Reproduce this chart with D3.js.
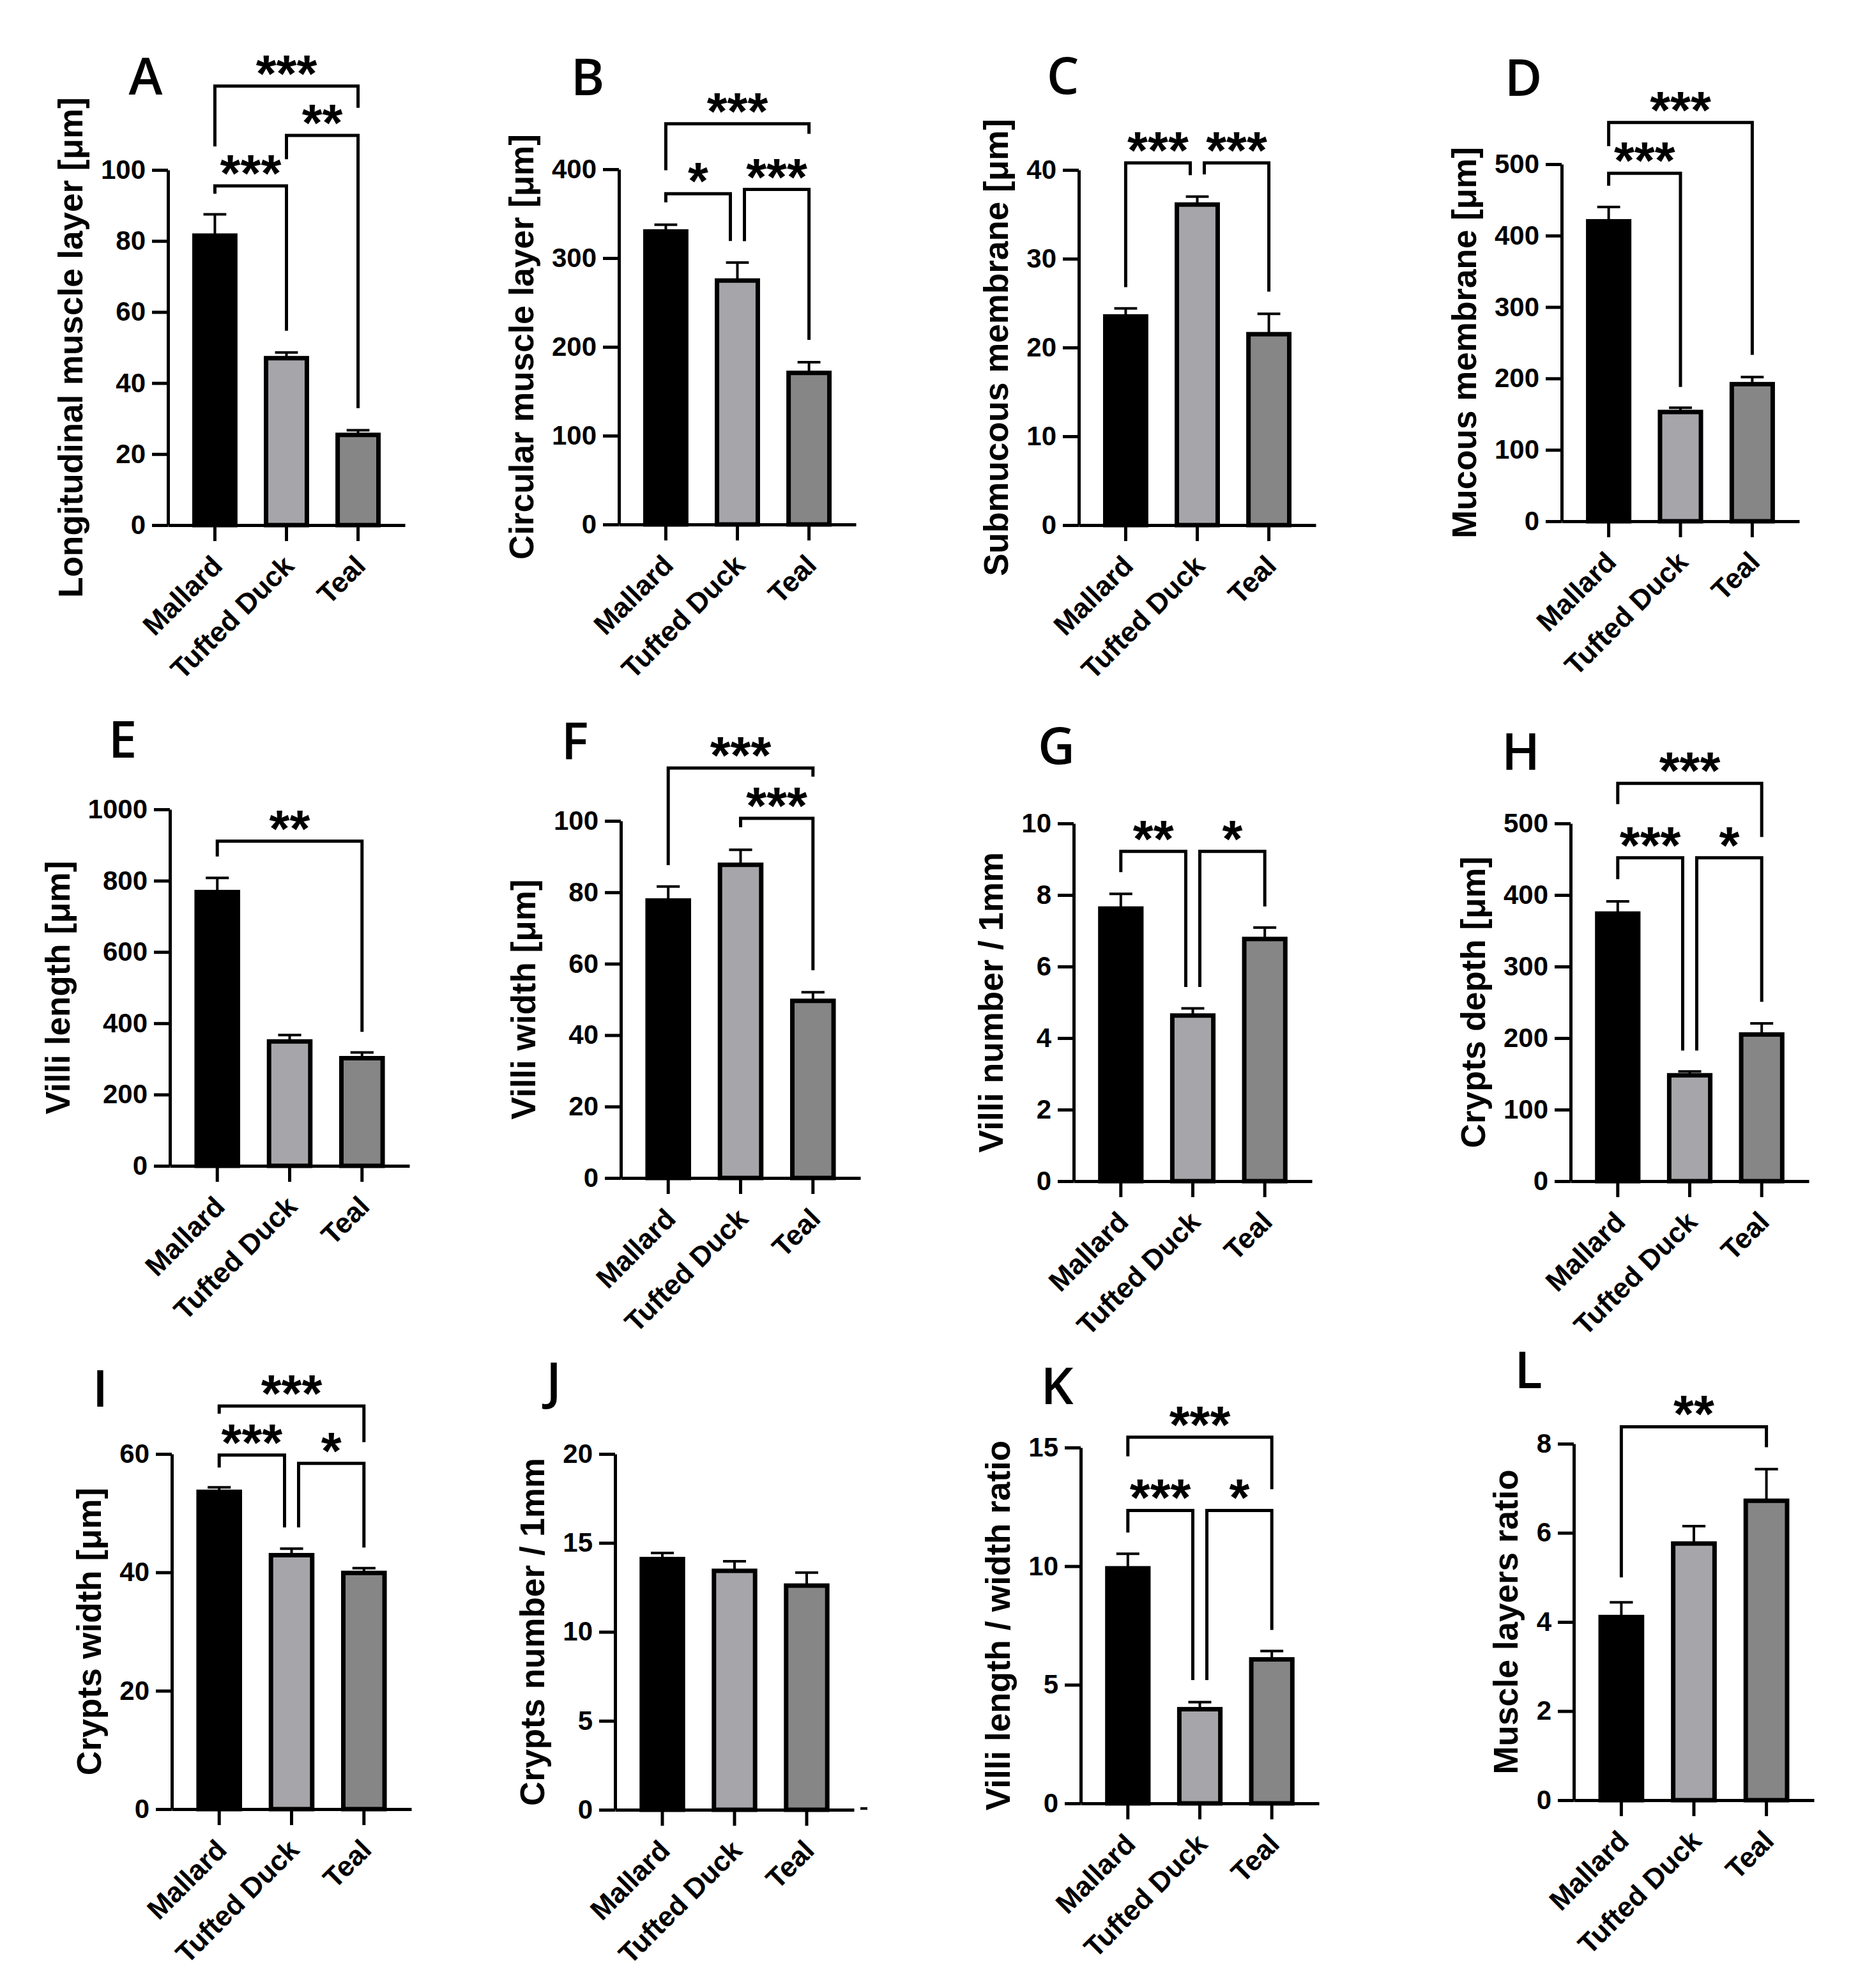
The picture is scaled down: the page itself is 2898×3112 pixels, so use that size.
<!DOCTYPE html>
<html>
<head>
<meta charset="utf-8">
<script src="https://cdn.jsdelivr.net/npm/d3@7"></script>
<style>
  body { margin: 0; background: #fff; }
  svg { display: block; }
</style>
</head>
<body>
<div id="chart"></div>
<script>
// groups shared by every panel
const GROUPS = ["Mallard", "Tufted Duck", "Teal"];
const BAR_COLORS = ["#000000", "#a6a6aa", "#868686"];

const PANEL_IDS = ["A", "B", "C", "D", "E", "F", "G", "H", "I", "J", "K", "L"];
const Y_TITLES = [
  "Longitudinal muscle layer [μm]",
  "Circular muscle layer [μm]",
  "Submucous membrane [μm]",
  "Mucous membrane [μm]",
  "Villi length [μm]",
  "Villi width [μm]",
  "Villi number / 1mm",
  "Crypts depth [μm]",
  "Crypts width [μm]",
  "Crypts number / 1mm",
  "Villi length / width ratio",
  "Muscle layers ratio",
];
const Y_MAX = [100, 400, 40, 500, 1000, 100, 10, 500, 60, 20, 15, 8];
const Y_STEP = [20, 100, 10, 100, 200, 20, 2, 100, 20, 5, 5, 2];

// mean per group (Mallard, Tufted Duck, Teal)
const MEANS = [
  [81.5, 47.0, 25.4],
  [330, 274.7, 170.7],
  [23.5, 36.1, 21.5],
  [420, 153, 192],
  [768, 349, 302],
  [77.7, 87.7, 49.6],
  [7.62, 4.63, 6.77],
  [374, 148, 205],
  [53.6, 42.9, 39.9],
  [14.09, 13.43, 12.6],
  [9.91, 3.97, 6.07],
  [4.11, 5.76, 6.72],
];
// upper error bar (SEM)
const SEMS = [
  [6.0, 1.6, 1.3],
  [7.6, 20.3, 12.1],
  [0.9, 0.9, 2.3],
  [20, 6, 10],
  [40, 18, 16],
  [3.9, 4.2, 2.4],
  [0.41, 0.2, 0.32],
  [17, 5.4, 15.5],
  [0.75, 1.1, 0.8],
  [0.34, 0.54, 0.73],
  [0.61, 0.3, 0.35],
  [0.33, 0.39, 0.71],
];
// significance: [from, to, level, left leg end, right leg end, stars] (data units)
const BRACKETS = [
  [[0, 1, 95.5, 93.3, 54.7, "***"], [1, 2, 109.7, 103.0, 32.9, "**"], [0, 2, 123.6, 106.6, 117.5, "***"]],
  [[0, 1, 372.4, 362.8, 319.2, "*"], [1, 2, 377.3, 319, 208, "***"], [0, 2, 451.3, 399, 440, "***"]],
  [[0, 1, 40.8, 26.8, 39.4, "***"], [1, 2, 40.8, 39.5, 26.3, "***"]],
  [[0, 1, 487.3, 469.9, 188, "***"], [0, 2, 558.4, 525.3, 233, "***"]],
  [[0, 2, 911, 868, 376, "**"]],
  [[1, 2, 100.7, 98.2, 58.2, "***"], [0, 2, 114.8, 87.6, 112.4, "***"]],
  [[0, 1, 9.22, 8.64, 5.43, "**"], [1, 2, 9.22, 5.43, 7.68, "*"]],
  [[0, 1, 452, 422, 182.7, "***"], [1, 2, 452, 182.7, 250.6, "*"], [0, 2, 556, 527, 481, "***"]],
  [[0, 1, 59.8, 57.7, 47.6, "***"], [1, 2, 58.4, 47.6, 44.2, "*"], [0, 2, 68.1, 66.8, 62.0, "***"]],
  [],
  [[0, 1, 12.35, 11.42, 5.2, "***"], [1, 2, 12.35, 5.2, 7.31, "*"], [0, 2, 15.44, 14.63, 13.24, "***"]],
  [[0, 2, 8.38, 5.0, 7.92, "**"]],
];

// plot frames in page pixels: y axis x, x axis end, top tick y, zero y, letter anchor
const LAYOUT = [
  { x0: 263, x1: 634, yTop: 266, y0: 822, lx: 228, ly: 148 },
  { x0: 969, x1: 1340, yTop: 265, y0: 821, lx: 920, ly: 149 },
  { x0: 1689, x1: 2060, yTop: 266, y0: 822, lx: 1664, ly: 147 },
  { x0: 2445, x1: 2817, yTop: 257, y0: 816, lx: 2385, ly: 150 },
  { x0: 266, x1: 641, yTop: 1267, y0: 1825, lx: 192, ly: 1186 },
  { x0: 972, x1: 1347, yTop: 1285, y0: 1844, lx: 900, ly: 1189 },
  { x0: 1681, x1: 2054, yTop: 1289, y0: 1849, lx: 1654, ly: 1196 },
  { x0: 2459, x1: 2832, yTop: 1289, y0: 1849, lx: 2381, ly: 1205 },
  { x0: 269, x1: 644, yTop: 2276, y0: 2832, lx: 157, ly: 2202 },
  { x0: 963, x1: 1337, yTop: 2276, y0: 2833, lx: 867, ly: 2190 },
  { x0: 1692, x1: 2065, yTop: 2266, y0: 2823, lx: 1655, ly: 2198 },
  { x0: 2464, x1: 2840, yTop: 2260, y0: 2818, lx: 2393, ly: 2173 },
];

const FONT = "'Liberation Sans', Arial, sans-serif";
const TICK_LEN = 25;
const SHIFT = 11;

const svg = d3
  .select("#chart")
  .append("svg")
  .attr("width", 2898)
  .attr("height", 3112);

svg.append("rect").attr("width", 2898).attr("height", 3112).attr("fill", "#fff");

PANEL_IDS.forEach((id, i) => {
  const L = LAYOUT[i];
  const g = svg.append("g").attr("class", "panel-" + id);

  const x = d3
    .scaleBand()
    .domain(GROUPS)
    .range([L.x0, L.x1])
    .paddingInner(0.43)
    .paddingOuter(0.37);
  const y = d3.scaleLinear().domain([0, Y_MAX[i]]).range([L.y0, L.yTop]);
  const bw = x.bandwidth();

  const rows = GROUPS.map((k, j) => ({ k, j, v: MEANS[i][j], e: SEMS[i][j] }));

  //bars
  g.selectAll("rect.bar")
    .data(rows)
    .join("rect")
    .attr("class", "bar")
    .attr("x", (d) => x(d.k))
    .attr("width", bw)
    .attr("y", (d) => y(d.v))
    .attr("height", (d) => y(0) - y(d.v))
    .attr("fill", (d) => BAR_COLORS[d.j])
    .attr("stroke", "#000")
    .attr("stroke-width", 7);

  //error bars (upper only)
  const eb = g.selectAll("g.err").data(rows).join("g").attr("class", "err");
  eb.append("line")
    .attr("x1", (d) => x(d.k) + bw / 2)
    .attr("x2", (d) => x(d.k) + bw / 2)
    .attr("y1", (d) => y(d.v))
    .attr("y2", (d) => y(d.v + d.e))
    .attr("stroke", "#000")
    .attr("stroke-width", 4);
  eb.append("line")
    .attr("x1", (d) => x(d.k) + bw / 2 - bw * 0.28)
    .attr("x2", (d) => x(d.k) + bw / 2 + bw * 0.28)
    .attr("y1", (d) => y(d.v + d.e))
    .attr("y2", (d) => y(d.v + d.e))
    .attr("stroke", "#000")
    .attr("stroke-width", 4);

  //y axis
  const yAxis = d3
    .axisLeft(y)
    .tickValues(d3.range(0, Y_MAX[i] + Y_STEP[i] / 2, Y_STEP[i]))
    .tickFormat(d3.format("d"))
    .tickSize(TICK_LEN)
    .tickSizeOuter(0)
    .tickPadding(10);
  const yg = g
    .append("g")
    .attr("transform", `translate(${L.x0},0)`)
    .call(yAxis)
    .attr("font-size", null)
    .attr("font-family", null);
  yg.selectAll("path, line").attr("stroke", "#000").attr("stroke-width", 5);
  yg.selectAll("text")
    .attr("fill", "#000")
    .style("font-family", FONT)
    .style("font-weight", "bold")
    .style("font-size", "42px");

  //x axis
  const xAxis = d3.axisBottom(x).tickSize(TICK_LEN).tickSizeOuter(0);
  const xg = g
    .append("g")
    .attr("transform", `translate(0,${L.y0})`)
    .call(xAxis)
    .attr("font-size", null)
    .attr("font-family", null);
  xg.selectAll("path, line").attr("stroke", "#000").attr("stroke-width", 5);
  xg.selectAll("text")
    .attr("x", 0)
    .attr("y", 0)
    .attr("dy", "0.72em")
    .attr("transform", "translate(-8,44) rotate(-45)")
    .attr("fill", "#000")
    .style("text-anchor", "end")
    .style("font-family", FONT)
    .style("font-weight", "bold")
    .style("font-size", "44px");

  //y title placed from the widest tick label
  let maxW = 0;
  yg.selectAll("text").each(function () {
    maxW = Math.max(maxW, this.getBBox().width);
  });
  const tx = L.x0 - TICK_LEN - 10 - maxW - 29;
  const ty = (L.y0 + L.yTop) / 2;
  g.append("text")
    .attr("transform", `translate(${tx},${ty}) rotate(-90)`)
    .attr("text-anchor", "middle")
    .style("font-family", FONT)
    .style("font-weight", "bold")
    .style("font-size", "53px")
    .text(Y_TITLES[i]);

  //panel letter
  g.append("text")
    .attr("x", L.lx)
    .attr("y", L.ly)
    .attr("text-anchor", "middle")
    .style("font-family", "'Open Sans', sans-serif")
    .style("font-weight", "600")
    .style("font-size", "80px")
    .text(id);

  //significance brackets
  const br = BRACKETS[i].map((b) => ({
    a: b[0], b: b[1], level: b[2], legA: b[3], legB: b[4], label: b[5],
  }));
  br.forEach((d) => {
    let xa = x(GROUPS[d.a]) + bw / 2;
    let xb = x(GROUPS[d.b]) + bw / 2;
    br.forEach((o) => {
      if (o === d) return;
      const close = Math.abs(o.level - d.level) < 0.05 * Y_MAX[i];
      if (close && o.b === d.a) xa += SHIFT;
      if (close && o.a === d.b) xb -= SHIFT;
    });
    d.xa = xa;
    d.xb = xb;
  });

  g.selectAll("path.bracket")
    .data(br)
    .join("path")
    .attr("class", "bracket")
    .attr("d", (d) => `M${d.xa},${y(d.legA)}V${y(d.level)}H${d.xb}V${y(d.legB)}`)
    .attr("fill", "none")
    .attr("stroke", "#000")
    .attr("stroke-width", 5);

  g.selectAll("text.stars")
    .data(br)
    .join("text")
    .attr("class", "stars")
    .attr("x", (d) => (d.xa + d.xb) / 2)
    .attr("y", (d) => y(d.level) + 8)
    .attr("text-anchor", "middle")
    .style("font-family", FONT)
    .style("font-weight", "bold")
    .style("font-size", "82px")
    .text((d) => d.label);

  // stray dash at the end of J's x axis
  if (id === "J") {
    g.append("line")
      .attr("x1", L.x1 + 10)
      .attr("x2", L.x1 + 21)
      .attr("y1", L.y0 - 2)
      .attr("y2", L.y0 - 2)
      .attr("stroke", "#000")
      .attr("stroke-width", 4);
  }
});
</script>
</body>
</html>
